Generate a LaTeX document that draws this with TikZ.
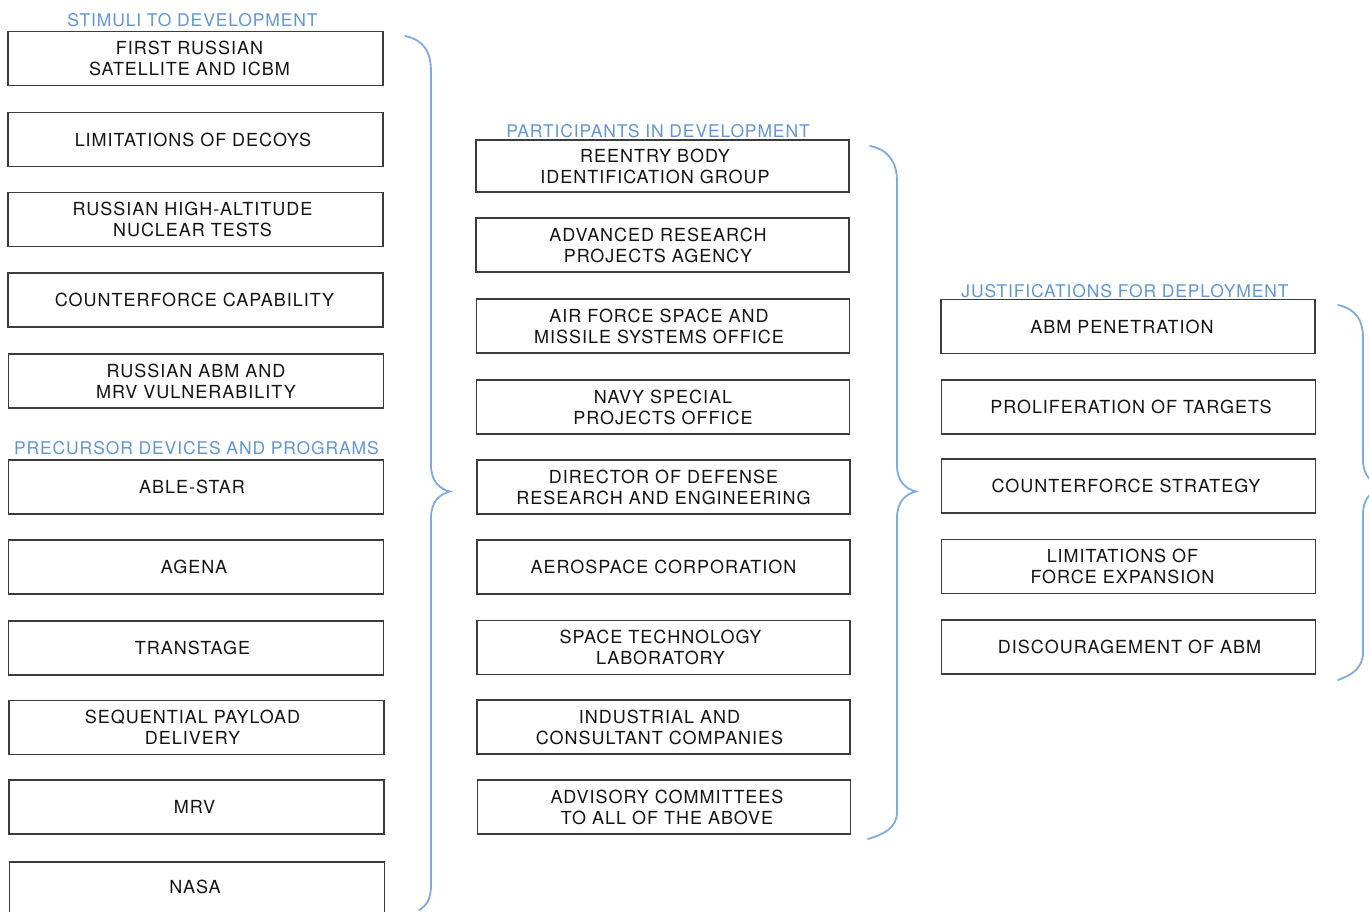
\documentclass[tikz,border=0pt]{standalone}
\usepackage{fontspec}
\setmainfont[LetterSpace=5.5]{TeX Gyre Heros}
\newfontfamily\labelfont[LetterSpace=5]{TeX Gyre Heros}
\definecolor{labelblue}{RGB}{95,150,215}
\definecolor{braceblue}{RGB}{125,172,225}
\definecolor{boxline}{RGB}{60,60,60}
\begin{document}
\begin{tikzpicture}[x=1pt,y=-1pt,
  box/.style={draw=boxline, line width=1.8pt, fill=white,
    minimum height=54pt, inner sep=0pt},
  lbox/.style={box, minimum width=375pt},
  mbox/.style={box, minimum width=373pt},
  rbox/.style={box, minimum width=374pt},
  boxtext/.style={align=center, inner sep=0pt, text=black!92,
    font=\fontsize{18}{21}\selectfont},
  grouplabel/.style={text=labelblue, inner sep=0pt, font=\labelfont\fontsize{17.5}{21}\selectfont},
  bracepath/.style={draw=braceblue, line width=1.8pt, line cap=round}]
\useasboundingbox (0,0) rectangle (1369,912);
\clip (0,0) rectangle (1369,912);
% left column: stimuli
\node[grouplabel] (lS) at (192.5,20) {STIMULI TO DEVELOPMENT};
\node[lbox] (s1) at (195.5,58.5) {};
\node[boxtext, xshift=-6pt] (s1t) at (s1) {FIRST RUSSIAN\\SATELLITE AND ICBM};
\node[lbox] (s2) at (195.5,139.5) {};
\node[boxtext, xshift=-2.5pt] (s2t) at (s2) {LIMITATIONS OF DECOYS};
\node[lbox] (s3) at (195.5,219.5) {};
\node[boxtext, xshift=-3pt] (s3t) at (s3) {RUSSIAN HIGH-ALTITUDE\\NUCLEAR TESTS};
\node[lbox] (s4) at (195.5,300) {};
\node[boxtext, xshift=-1pt] (s4t) at (s4) {COUNTERFORCE CAPABILITY};
\node[lbox] (s5) at (196,381) {};
\node[boxtext] (s5t) at (s5) {RUSSIAN ABM AND\\MRV VULNERABILITY};
% left column: precursors
\node[grouplabel] (lP) at (196.5,448) {PRECURSOR DEVICES AND PROGRAMS};
\node[lbox] (p1) at (196,487) {};
\node[boxtext, xshift=-4pt] (p1t) at (p1) {ABLE-STAR};
\node[lbox] (p2) at (196,567) {};
\node[boxtext, xshift=-2pt] (p2t) at (p2) {AGENA};
\node[lbox] (p3) at (196,648) {};
\node[boxtext, xshift=-3.5pt] (p3t) at (p3) {TRANSTAGE};
\node[lbox] (p4) at (196.5,727.5) {};
\node[boxtext, xshift=-4pt] (p4t) at (p4) {SEQUENTIAL PAYLOAD\\DELIVERY};
\node[lbox] (p5) at (196.5,807) {};
\node[boxtext, xshift=-2pt] (p5t) at (p5) {MRV};
\node[lbox, minimum height=62pt] (p6) at (197,893) {};
\node[boxtext] (p6t) at (195,887) {NASA};
% left brace
\path[bracepath] (405,36) .. controls (424,40) and (431,52) .. (431,72)
  -- (431,465) .. controls (431,482) and (440,489) .. (450,491.5)
  .. controls (440,494) and (431,501) .. (431,518)
  -- (431,885) .. controls (431,900) and (426,906) .. (419,910);
% middle column: participants
\node[grouplabel] (lM) at (658,131) {PARTICIPANTS IN DEVELOPMENT};
\node[mbox, minimum height=52pt] (m1) at (662.5,166) {};
\node[boxtext, xshift=-7.5pt] (m1t) at (m1) {REENTRY BODY\\IDENTIFICATION GROUP};
\node[mbox] (m2) at (662.5,245) {};
\node[boxtext, xshift=-4.5pt] (m2t) at (m2) {ADVANCED RESEARCH\\PROJECTS AGENCY};
\node[mbox] (m3) at (663,326) {};
\node[boxtext, xshift=-4pt] (m3t) at (m3) {AIR FORCE SPACE AND\\MISSILE SYSTEMS OFFICE};
\node[mbox] (m4) at (663,407) {};
\node[boxtext] (m4t) at (m4) {NAVY SPECIAL\\PROJECTS OFFICE};
\node[mbox] (m5) at (663.5,487) {};
\node[boxtext] (m5t) at (m5) {DIRECTOR OF DEFENSE\\RESEARCH AND ENGINEERING};
\node[mbox] (m6) at (663.5,567) {};
\node[boxtext] (m6t) at (m6) {AEROSPACE CORPORATION};
\node[mbox] (m7) at (663.5,647.5) {};
\node[boxtext, xshift=-3pt] (m7t) at (m7) {SPACE TECHNOLOGY\\LABORATORY};
\node[mbox] (m8) at (663.5,727) {};
\node[boxtext, xshift=-4pt] (m8t) at (m8) {INDUSTRIAL AND\\CONSULTANT COMPANIES};
\node[mbox] (m9) at (664,807) {};
\node[boxtext, xshift=3pt] (m9t) at (m9) {ADVISORY COMMITTEES\\TO ALL OF THE ABOVE};
% middle brace
\path[bracepath] (870,146) .. controls (889,150) and (897,162) .. (897,182)
  -- (897,465) .. controls (897,482) and (906,489) .. (916,491.5)
  .. controls (906,494) and (897,501) .. (897,518)
  -- (897,812) .. controls (897,828) and (884,834) .. (868,839);
% right column: justifications
\node[grouplabel] (lJ) at (1125,291) {JUSTIFICATIONS FOR DEPLOYMENT};
\node[rbox] (j1) at (1128,326.5) {};
\node[boxtext, xshift=-6pt] (j1t) at (j1) {ABM PENETRATION};
\node[rbox] (j2) at (1128.5,407) {};
\node[boxtext, xshift=2.5pt] (j2t) at (j2) {PROLIFERATION OF TARGETS};
\node[rbox] (j3) at (1128.5,486) {};
\node[boxtext, xshift=-2.5pt] (j3t) at (j3) {COUNTERFORCE STRATEGY};
\node[rbox] (j4) at (1128.5,566.5) {};
\node[boxtext, xshift=-6pt] (j4t) at (j4) {LIMITATIONS OF\\FORCE EXPANSION};
\node[rbox] (j5) at (1128.5,647) {};
\node[boxtext, xshift=1pt] (j5t) at (j5) {DISCOURAGEMENT OF ABM};
% right brace
\path[bracepath] (1338,305) .. controls (1356,309) and (1363,320) .. (1363,338)
  -- (1363,460) .. controls (1363,476) and (1372,484) .. (1384,487)
  .. controls (1372,490) and (1363,498) .. (1363,514)
  -- (1363,652) .. controls (1363,668) and (1352,675) .. (1338,680);
\end{tikzpicture}
\end{document}
